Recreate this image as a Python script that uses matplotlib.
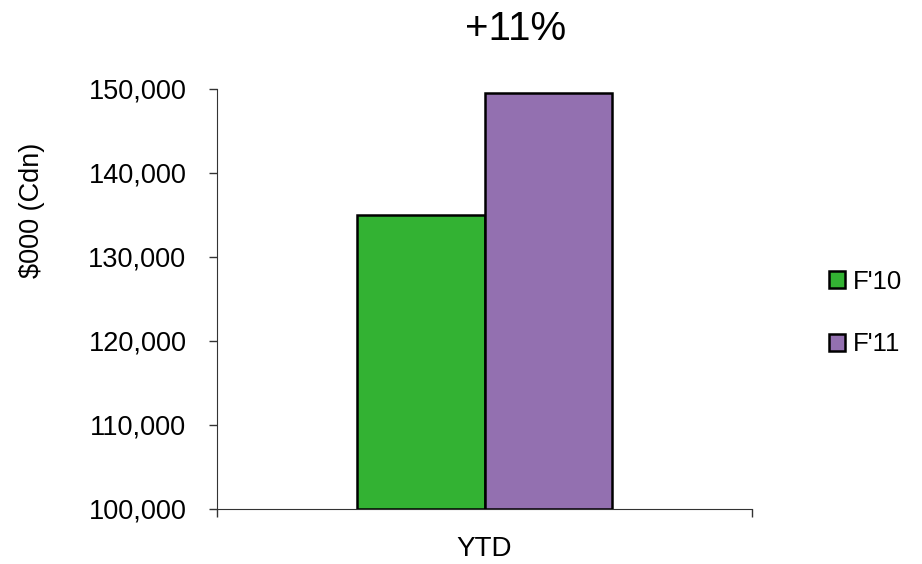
import matplotlib.pyplot as plt
import numpy as np

plt.rcParams['font.family'] = ['Liberation Sans', 'DejaVu Sans']

categories = ['YTD']
series = ["F'10", "F'11"]
values = [135000, 149500]
colors = ['#33b233', '#9370b0']
y_ticks = [100000, 110000, 120000, 130000, 140000, 150000]

fig = plt.figure(figsize=(9.22, 5.64), dpi=100)
ax = fig.add_axes([217 / 922, 1 - 509 / 564, (752 - 217) / 922, (509 - 89) / 564])

width = 0.239
offsets = [-width / 2, width / 2]
for val, off, col, name in zip(values, offsets, colors, series):
    ax.bar(0 + off, val - 100000, bottom=100000, width=width, color=col,
           edgecolor='black', linewidth=1.8, label=name, zorder=3)

ax.set_xlim(-0.5, 0.5)
ax.set_ylim(100000, 150000)
ax.set_yticks(y_ticks)
ax.set_yticklabels([f'{v:,}' for v in y_ticks], fontsize=19.5)
ax.set_xticks([-0.5, 0.5])
ax.set_xticklabels(['', ''])
ax.tick_params(axis='y', length=5.5, width=1, color='#333333', pad=16.5)
ax.tick_params(axis='x', length=5.5, width=1, color='#333333')
for s in ['top', 'right']:
    ax.spines[s].set_visible(False)
ax.spines['left'].set_color('#333333')
ax.spines['bottom'].set_color('#333333')

fig.text(484 / 922, 1 - 549 / 564, categories[0], ha='center', va='center', fontsize=20)
fig.text(516 / 922, 1 - 29 / 564, '+11%', ha='center', va='center', fontsize=29)
fig.text(32 / 922, 1 - 210 / 564, '$000 (Cdn)', ha='center', va='center',
         rotation=90, fontsize=19.5)

fig.legend(loc='center left', bbox_to_anchor=(829 / 922, 1 - 313 / 564),
           frameon=False, fontsize=18.5, handlelength=0.64, handleheight=0.64,
           handletextpad=0.28, labelspacing=1.5, borderpad=0, borderaxespad=0)

fig.savefig('out.png', dpi=100)
